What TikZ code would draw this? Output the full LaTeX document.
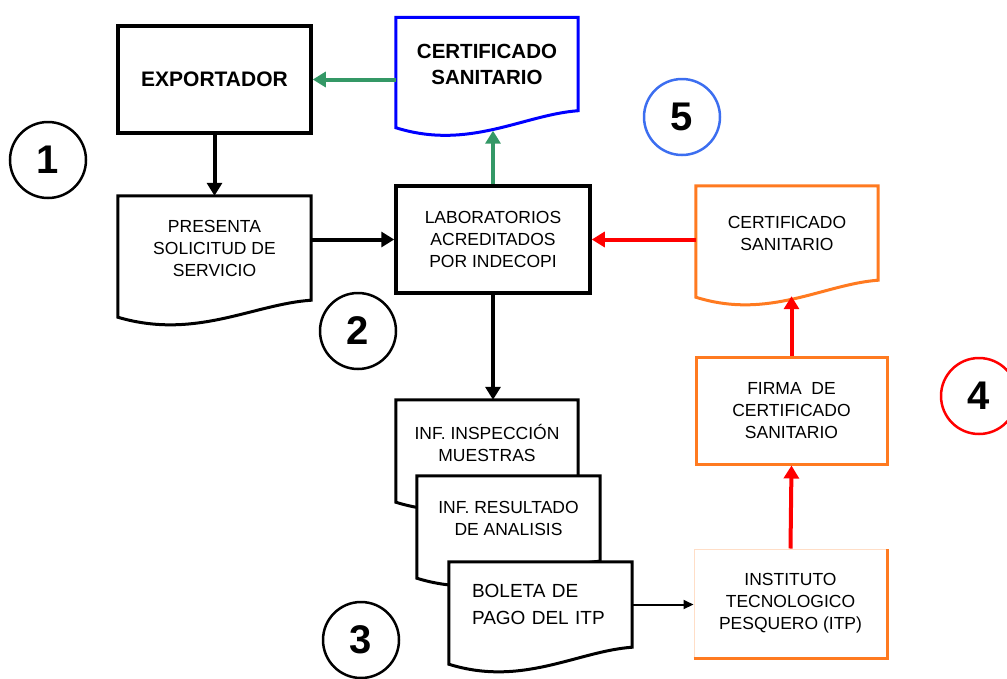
\documentclass[tikz,border=0pt]{standalone}
\usepackage{fontspec}
\setmainfont{Liberation Sans}
\usetikzlibrary{calc,arrows.meta,backgrounds}
\definecolor{certgreen}{RGB}{52,152,102}
\definecolor{docorange}{RGB}{255,122,32}
\definecolor{numblue}{RGB}{60,110,240}

% document shape with a wavy bottom, drawn behind the text
\newcommand\docshape[2]{%
  \begin{pgfonlayer}{background}
  \draw[#2, line width=3pt, fill=white, line join=miter]
    (#1.north west) -- (#1.north east) -- (#1.south east)
    .. controls ($(#1.south west)!0.7!(#1.south east)+(0,-4pt)$)
            and ($(#1.south west)!0.4!(#1.south east)+(0,-40pt)$)
    .. ([yshift=-17pt]#1.south west) -- cycle;
  \end{pgfonlayer}}

\begin{document}
\begin{tikzpicture}[x=1pt, y=-1pt,
    box/.style={draw, line width=3.5pt, inner sep=0pt, align=center,
      font=\fontsize{17.5}{22}\selectfont},
    docbox/.style={inner sep=0pt, align=center,
      font=\fontsize{17.5}{22}\selectfont},
    num/.style={circle, draw, line width=2.5pt, minimum size=76pt, inner sep=0pt,
      font=\fontsize{40}{40}\selectfont\bfseries},
    arr/.style={line width=4pt, -{Triangle[length=13pt,width=15pt]}}]
  \useasboundingbox (0,0) rectangle (1007,678);

  % boxes
  \node [box, minimum width=193pt, minimum height=107pt,
    font=\fontsize{21}{25}\selectfont\bfseries] (exp) at (214.5,79.5) {EXPORTADOR};
  \node [box, minimum width=194pt, minimum height=107pt] (lab) at (493,239.5)
    {LABORATORIOS\\ACREDITADOS\\POR INDECOPI};
  \node [box, draw=docorange, line width=3pt, minimum width=191pt, minimum height=107pt]
    (firma) at (791.5,410.5) {FIRMA\ \ DE\\CERTIFICADO\\SANITARIO};
  \node [box, draw=docorange!25, line width=1pt, minimum width=193pt, minimum height=109pt]
    (itp) at (790.5,603.5) {INSTITUTO\\TECNOLOGICO\\PESQUERO (ITP)};
  \draw [docorange, line width=3pt] (itp.south west) -- (itp.south east) -- (itp.north east);

  % documents
  \node [docbox, minimum width=182pt, minimum height=93pt,
    font=\fontsize{20.5}{26}\selectfont\bfseries] (cert) at (487,64) {CERTIFICADO\\SANITARIO};
  \docshape{cert}{blue}
  \node [docbox, minimum width=193pt, minimum height=104pt] (pres) at (214.5,248)
    {PRESENTA\\SOLICITUD DE\\SERVICIO};
  \docshape{pres}{black}
  \node [docbox, minimum width=182pt, minimum height=94pt] (ocert) at (787,233)
    {CERTIFICADO\\SANITARIO};
  \docshape{ocert}{docorange}
  \node [docbox, minimum width=182pt, minimum height=85pt] (inf1) at (487,442.5)
    {INF. INSPECCIÓN\\MUESTRAS};
  \docshape{inf1}{black}
  \node [docbox, minimum width=183pt, minimum height=85pt] (inf2) at (508.5,518.5)
    {INF. RESULTADO\\DE ANALISIS};
  \docshape{inf2}{black}
  \node [docbox, minimum width=183pt, minimum height=85pt, text width=137pt, align=left,
    font=\fontsize{19}{27}\selectfont] (bol) at (540.5,604.5) {BOLETA DE\\PAGO DEL ITP};
  \docshape{bol}{black}

  % numbers
  \node [num] (n1) at (48,160) {1};
  \node [num] (n2) at (358,331) {2};
  \node [num] (n3) at (361,640) {3};
  \node [num, draw=red] (n4) at (979,396) {4};
  \node [num, draw=numblue] (n5) at (682,117) {5};

  % connectors
  \coordinate (certbot) at ([yshift=-20pt]cert.south);
  \coordinate (ocertbot) at ([yshift=-16pt]ocert.south);
  \draw [arr] (exp.south) -- (pres.north);
  \draw [arr] (pres.east |- lab.west) -- (lab.west);
  \draw [arr] (lab.south) -- (lab.south |- inf1.north);
  \draw [arr, certgreen] (cert.west |- exp.east) -- (exp.east);
  \draw [arr, certgreen] (lab.north) -- (lab.north |- certbot);
  \draw [arr, red] (ocert.west |- lab.east) -- (lab.east);
  \draw [arr, red] (firma.north) -- (firma.north |- ocertbot);
  \draw [arr, red] (itp.north) -- (firma.south);
  \draw [line width=2pt, -{Triangle[length=10pt,width=9pt]}] (bol.east) -- (itp.west |- bol.east);
\end{tikzpicture}
\end{document}
